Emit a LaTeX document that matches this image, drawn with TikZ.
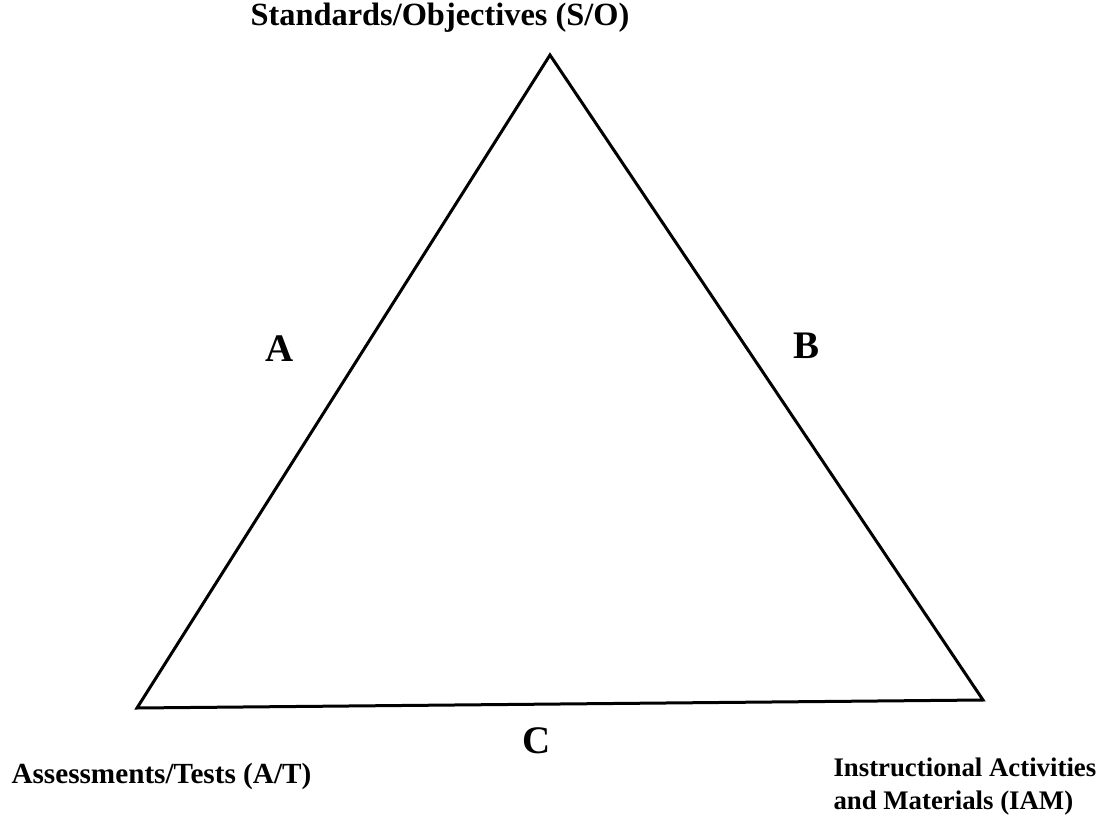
\documentclass[tikz,border=0pt]{standalone}
\usepackage{fontspec}
\setmainfont{Liberation Serif}
\usetikzlibrary{positioning}

\begin{document}
\begin{tikzpicture}[x=0.5pt, y=-0.5pt, line width=1.5pt,
  corner/.style={font=\bfseries\fontsize{15}{16.5}\selectfont, inner sep=0pt},
  side/.style={font=\bfseries\fontsize{19.5}{22}\selectfont, inner sep=0pt}]
\useasboundingbox (0,0) rectangle (1103,818);
\coordinate (so) at (550, 55);
\coordinate (at) at (137, 708);
\coordinate (iam) at (983, 700);

\node[corner, font=\bfseries\fontsize{16.2}{18}\selectfont] (tso) at (440, 18) {Standards/Objectives (S/O)};
\node[corner, anchor=west, font=\bfseries\fontsize{14.6}{16.5}\selectfont] (tat) at (10, 776) {Assessments/Tests (A/T)};
\node[corner, anchor=west, align=left, font=\bfseries\fontsize{13.4}{16.5}\selectfont] (tiam) at (832, 787) {Instructional Activities\\and Materials (IAM)};

\node[side] (a) at (280, 349) {A};
\node[side] (b) at (806, 346) {B};
\node[side] (c) at (537, 741) {C};

\draw[line join=miter] (so) -- (iam) -- (at) -- cycle;
\end{tikzpicture}
\end{document}
